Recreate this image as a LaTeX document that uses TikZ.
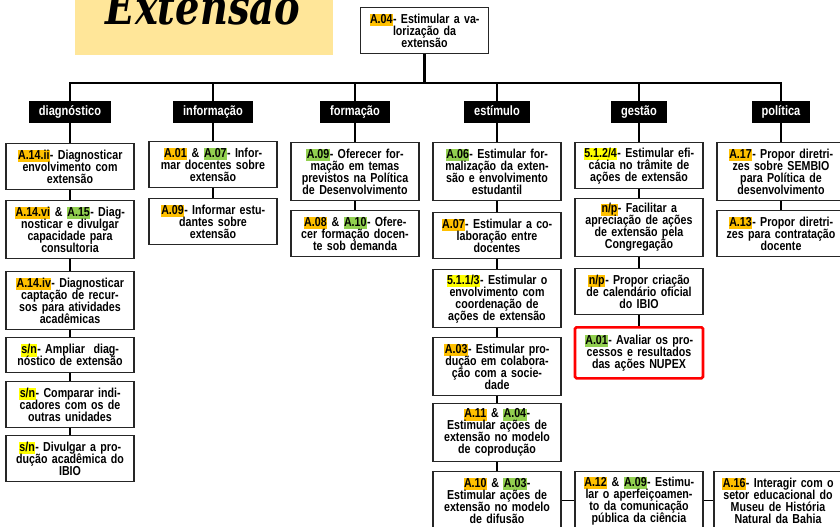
\documentclass[tikz,border=0pt]{standalone}
\usepackage{fontspec}
\usepackage{xcolor}
\newfontfamily\boxfont[FakeStretch=0.82]{Liberation Sans}
\newfontfamily\titlefont[FakeStretch=0.8]{DejaVu Serif}
\definecolor{hlorange}{HTML}{FFC000}
\definecolor{hlgreen}{HTML}{92D050}
\definecolor{hlyellow}{HTML}{FFFF00}
\definecolor{titlebg}{HTML}{FFE699}
\newcommand\hl[2]{{\setlength{\fboxsep}{0pt}\colorbox{#1}{\kern.5pt\vphantom{Ag}#2\kern.5pt}}}
\newcommand\ho[1]{\hl{hlorange}{#1}}
\newcommand\hg[1]{\hl{hlgreen}{#1}}
\newcommand\hy[1]{\hl{hlyellow}{#1}}
\tikzset{
  acao/.style={draw=black!85, line width=1.3pt, fill=white, anchor=north,
    text width=122pt, inner xsep=3pt, inner ysep=1pt, align=center,
    font={\boxfont\bfseries\fontsize{13}{12}\selectfont\lineskiplimit=-20pt}},
  l2/.style={minimum height=35pt},
  l3/.style={minimum height=46pt},
  l4/.style={minimum height=58pt},
  alerta/.style={draw=red, line width=2.6pt, rounded corners=1.5pt, minimum height=51pt},
  eixo/.style={fill=black, text=white, minimum height=22pt, inner xsep=10pt,
    text height=10pt, text depth=3pt,
    font={\boxfont\bfseries\fontsize{13.5}{14}\selectfont}},
  liga/.style={line width=1.6pt},
  tronco/.style={line width=2.2pt},
}
\begin{document}
\begin{tikzpicture}[x=1pt,y=-1pt]
  \useasboundingbox (0,0) rectangle (840,527);
  \clip (0,0) rectangle (840,527);

  \fill[titlebg] (75,-5) rectangle (333,55);
  \node[anchor=base, inner sep=0pt, font={\titlefont\bfseries\itshape\fontsize{48}{48}\selectfont}] (titulo) at (203,25) {Extensão};

  \node[acao,l3] (a04) at (424.5,7) {\ho{A.04}- Estimular a va-\\lorização da\\extensão};
  \coordinate (bus) at (424.5,83);

  \node[eixo] (diag) at (70,112) {diagnóstico};
  \node[eixo] (info) at (213,112) {informação};
  \node[eixo] (form) at (355,112) {formação};
  \node[eixo] (estim) at (497,112) {estímulo};
  \node[eixo] (gest) at (639,112) {gestão};
  \node[eixo] (pol) at (781,112) {política};

  \node[acao,l3] (d1) at (70,143) {\ho{A.14.ii}- Diagnosticar\\envolvimento com\\extensão};
  \node[acao,l4] (d2) at (70,200) {\ho{A.14.vi} \& \hg{A.15}- Diag-\\nosticar e divulgar\\capacidade para\\consultoria};
  \node[acao,l4] (d3) at (70,271) {\ho{A.14.iv}- Diagnosticar\\captação de recur-\\sos para atividades\\acadêmicas};
  \node[acao,l2] (d4) at (70,337) {\hy{s/n}- Ampliar~ diag-\\nóstico de extensão};
  \node[acao,l3] (d5) at (70,381) {\hy{s/n}- Comparar indi-\\cadores com os de\\outras unidades};
  \node[acao,l3] (d6) at (70,435) {\hy{s/n}- Divulgar a pro-\\dução acadêmica do\\IBIO};

  \node[acao,l3] (i1) at (213,141) {\ho{A.01} \& \hg{A.07}- Infor-\\mar docentes sobre\\extensão};
  \node[acao,l3] (i2) at (213,198) {\ho{A.09}- Informar estu-\\dantes sobre\\extensão};

  \node[acao,l4] (f1) at (355,142) {\hg{A.09}- Oferecer for-\\mação em temas\\previstos na Política\\de Desenvolvimento};
  \node[acao,l3] (f2) at (355,210) {\ho{A.08} \& \hg{A.10}- Ofere-\\cer formação docen-\\te sob demanda};

  \node[acao,l4] (e1) at (497,142) {\hg{A.06}- Estimular for-\\malização da exten-\\são e envolvimento\\estudantil};
  \node[acao,l3] (e2) at (497,212) {\ho{A.07}- Estimular a co-\\laboração entre\\docentes};
  \node[acao,l4] (e3) at (497,269) {\hy{5.1.1/3}- Estimular o\\envolvimento com\\coordenação de\\ações de extensão};
  \node[acao,l4] (e4) at (497,337) {\ho{A.03}- Estimular pro-\\dução em colabora-\\ção com a socie-\\dade};
  \node[acao,l4] (e5) at (497,403) {\ho{A.11} \& \hg{A.04}-\\Estimular ações de\\extensão no modelo\\de coprodução};
  \node[acao,l4] (e6) at (497,471) {\ho{A.10} \& \hg{A.03}-\\Estimular ações de\\extensão no modelo\\de difusão};

  \node[acao,l3] (g1) at (639,142) {\hy{5.1.2/4}- Estimular efi-\\cácia no trâmite de\\ações de extensão};
  \node[acao,l4] (g2) at (639,198) {\ho{n/p}- Facilitar a\\apreciação de ações\\de extensão pela\\Congregação};
  \node[acao,l3] (g3) at (639,268) {\ho{n/p}- Propor criação\\de calendário oficial\\do IBIO};
  \node[acao,alerta] (g4) at (639,326) {\hg{A.01}- Avaliar os pro-\\cessos e resultados\\das ações NUPEX};

  \node[acao,l4] (p1) at (781,142) {\ho{A.17}- Propor diretri-\\zes sobre SEMBIO\\para Política de\\desenvolvimento};
  \node[acao,l3] (p2) at (781,210) {\ho{A.13}- Propor diretri-\\zes para contratação\\docente};

  \node[acao,l4] (b1) at (639,471) {\ho{A.12} \& \hg{A.09}- Estimu-\\lar o aperfeiçoamen-\\to da comunicação\\pública da ciência};
  \node[acao,l4] (b2) at (778,471) {\ho{A.16}- Interagir com o\\setor educacional do\\Museu de História\\Natural da Bahia};

  \draw[tronco] (a04) -- (bus);
  \foreach \c in {diag,info,form,estim,gest,pol}
    \draw[tronco] (bus) -| (\c);

  \draw[liga] (diag) -- (d1) -- (d2) -- (d3) -- (d4) -- (d5) -- (d6);
  \draw[liga] (info) -- (i1) -- (i2);
  \draw[liga] (form) -- (f1) -- (f2);
  \draw[liga] (estim) -- (e1) -- (e2) -- (e3) -- (e4) -- (e5) -- (e6);
  \draw[liga] (gest) -- (g1) -- (g2) -- (g3) -- (g4);
  \draw[liga] (pol) -- (p1) -- (p2);
  \draw[liga] (e6) -- (b1) -- (b2);
\end{tikzpicture}
\end{document}
